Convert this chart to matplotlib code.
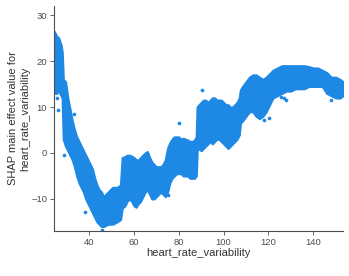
import numpy as np
import matplotlib
matplotlib.use("Agg")
import matplotlib.pyplot as plt

# band of the SHAP dependence cloud: feature value, lower and upper edge
hrv = [24.4, 25.5, 26.5, 27.5, 28.0, 28.5, 29.5, 30.5, 31.5, 32.5, 33.5, 34.5,
       35.5, 36.5, 37.5, 38.5, 39.5, 40.5, 41.5, 42.5, 43.5, 44.5, 45.5, 46.5,
       48.5, 50.5, 52.5, 54.0, 54.8, 56.0, 57.0, 58.0, 59.0, 60.0, 61.0, 62.0,
       63.0, 64.0, 65.0, 66.0, 67.0, 68.0, 69.0, 70.0, 71.0, 72.0, 73.0, 74.0,
       75.0, 76.0, 77.0, 78.0, 79.0, 80.0, 81.0, 82.0, 83.0, 84.0, 85.0, 86.0,
       87.0, 87.8, 88.2, 89.0, 90.0, 91.0, 92.0, 93.0, 94.0, 95.0, 96.0, 97.0,
       98.0, 99.0, 100.0, 101.0, 102.0, 103.0, 104.0, 105.0, 106.0, 107.0,
       107.5, 108.5, 110.0, 111.5, 113.0, 114.5, 116.0, 117.5, 119.0, 120.0,
       121.0, 122.0, 124.0, 126.0, 128.0, 130.0, 132.0, 134.0, 136.0, 138.0,
       140.0, 142.0, 144.0, 146.0, 148.0, 150.0, 152.0, 153.3]
shap_lo = [13.0, 13.0, 13.5, 12.5, 12.0, 3.0, 1.5, 0.5, -0.5, -1.5, -3.0, -5.0,
           -6.5, -7.5, -8.5, -10.0, -11.0, -12.0, -13.0, -14.0, -15.0, -15.5, -16.0, -16.0,
           -15.5, -15.5, -15.0, -14.5, -12.0, -11.5, -10.5, -10.0, -10.5, -11.5, -11.8, -11.0,
           -10.5, -9.5, -8.5, -8.0, -9.0, -10.0, -10.0, -9.5, -9.0, -8.5, -9.0, -9.5,
           -8.5, -6.5, -5.5, -5.0, -4.5, -4.5, -4.5, -5.0, -5.0, -5.0, -5.5, -5.5,
           -5.5, -5.0, 0.5, 1.0, 0.5, 1.0, 1.5, 2.0, 2.5, 2.0, 2.5, 3.0,
           3.0, 2.5, 2.0, 1.5, 1.0, 1.5, 2.0, 2.5, 3.0, 4.0,
           6.5, 7.0, 8.0, 9.0, 9.0, 8.0, 7.5, 8.0, 9.0, 10.0,
           11.0, 12.0, 12.5, 13.0, 13.5, 13.5, 14.0, 14.0, 14.0, 14.5,
           14.5, 14.5, 14.5, 13.0, 12.5, 12.0, 12.0, 12.5]
shap_hi = [26.5, 25.5, 25.0, 23.5, 22.0, 16.0, 15.5, 12.0, 9.5, 7.0, 5.0, 3.5,
           2.5, 1.5, 0.5, -0.5, -1.5, -2.5, -3.5, -5.5, -7.0, -8.0, -8.5, -9.5,
           -8.5, -7.5, -7.5, -7.0, -1.0, -0.8, -0.5, -0.5, -0.7, -1.0, -1.5, -1.5,
           -1.0, -0.5, 0.0, 0.3, -1.0, -2.0, -2.5, -3.0, -3.0, -3.0, -2.5, -1.5,
           1.0, 2.2, 3.0, 3.5, 3.5, 3.5, 3.0, 3.2, 3.0, 2.8, 2.5, 2.5,
           2.8, 3.5, 10.0, 10.5, 11.0, 11.5, 11.5, 11.0, 11.5, 12.0, 12.0, 11.5,
           11.5, 11.5, 11.0, 10.5, 10.5, 10.0, 10.0, 10.5, 11.0, 12.0,
           13.7, 14.5, 15.5, 16.5, 17.0, 17.0, 16.5, 16.0, 16.5, 17.0,
           17.5, 18.0, 18.5, 19.0, 19.0, 19.0, 19.0, 19.0, 19.0, 18.8,
           18.5, 18.5, 18.0, 17.5, 16.5, 16.5, 16.0, 15.5]

# stray points outside the dense band
out_x = [25.8, 26.2, 33.3, 28.9, 45.8, 38.2, 90.2, 80.0, 118.2, 120.4,
         125.8, 128.0, 148.0, 151.6, 127.1, 75.1]
out_y = [12.0, 9.3, 8.5, -0.4, -16.7, -12.8, 13.7, 6.5, 7.2, 7.6,
         12.2, 11.5, 11.5, 12.2, 12.0, -9.1]

blue = "#1E88E5"
grey = "#4d4d4d"
plt.rcParams["font.family"] = ["Liberation Sans", "DejaVu Sans"]

fig = plt.figure(figsize=(3.49, 2.76), dpi=100)
ax = fig.add_axes([0.155, 0.163, 0.828, 0.815])

ax.fill_between(hrv, shap_lo, shap_hi, color=blue, lw=1.6, edgecolor=blue)
ax.scatter(out_x, out_y, s=7, color=blue, lw=0)

ax.set_xlim(24.4, 153.3)
ax.set_ylim(-17, 32)
ax.set_xticks([40, 60, 80, 100, 120, 140])
ax.set_yticks([-10, 0, 10, 20, 30])

for s in ["top", "right"]:
    ax.spines[s].set_visible(False)
for s in ["left", "bottom"]:
    ax.spines[s].set_color(grey)
    ax.spines[s].set_linewidth(0.8)
ax.tick_params(colors=grey, labelsize=6.8, length=3, width=0.6, pad=2)

ax.set_xlabel("heart_rate_variability", fontsize=8, color="#333333", labelpad=1)
ax.set_ylabel("SHAP main effect value for\nheart_rate_variability",
              fontsize=8, color="#333333", labelpad=1)

fig.savefig("out.png", dpi=100)
